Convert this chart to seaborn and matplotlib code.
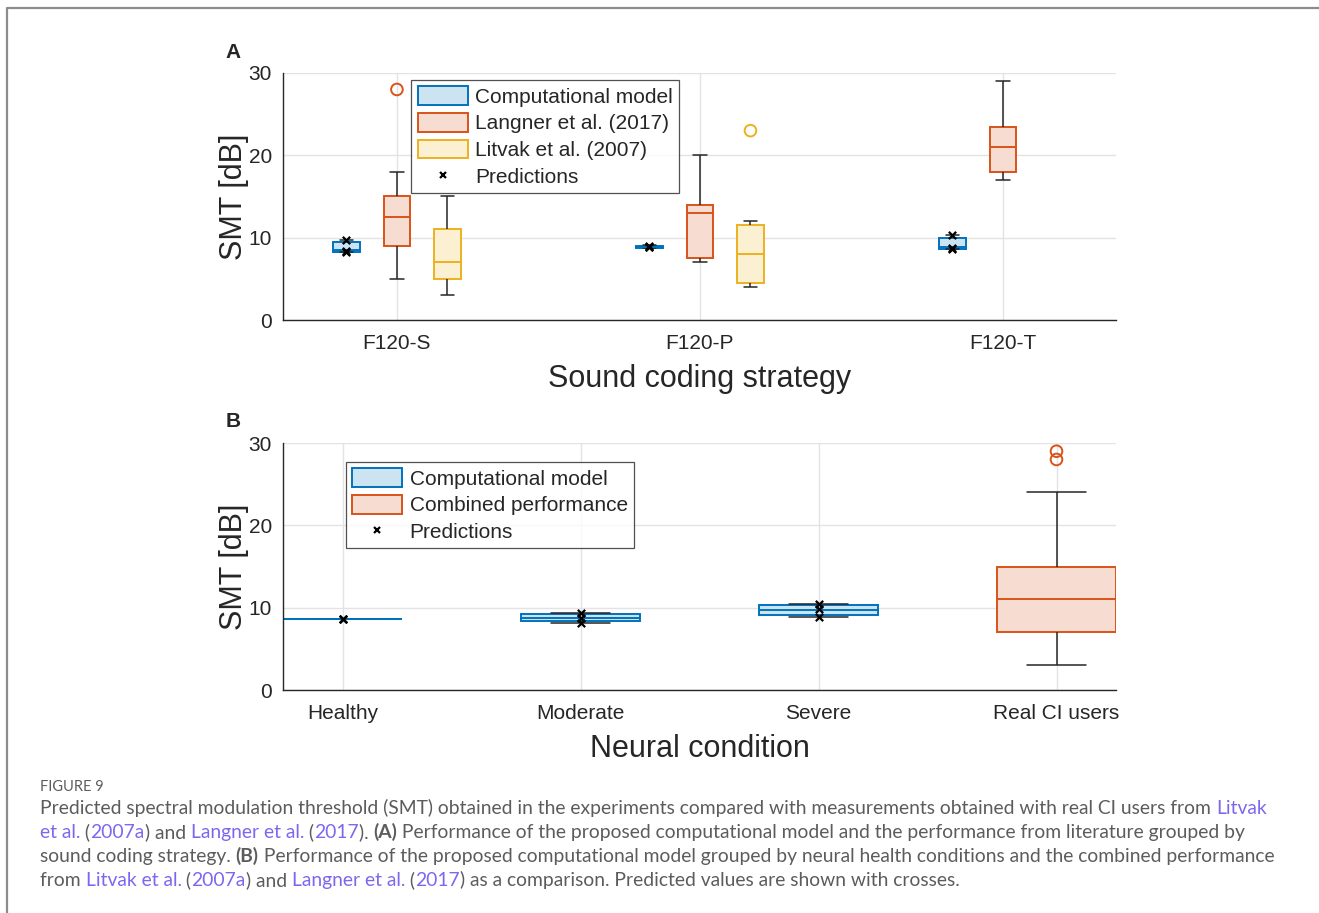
import numpy as np
import pandas as pd
import matplotlib
matplotlib.use("Agg")
import matplotlib.pyplot as plt
import seaborn as sns
from matplotlib.patches import Patch
from matplotlib.lines import Line2D

# ---------------- data ----------------
strategies = ["F120-S", "F120-P", "F120-T"]
series_a = ["Computational model", "Langner et al. (2017)", "Litvak et al. (2007)"]

# five-number summaries per strategy: [lower whisker, Q1, median, Q3, upper whisker]
comp_model_a = [[8.2, 8.25, 8.45, 9.45, 9.7],
                [8.75, 8.8, 8.9, 9.0, 9.1],
                [8.6, 8.65, 8.9, 10.0, 10.3]]
langner_a = [[5, 9, 12.5, 15, 18],
             [7, 7.5, 13, 14, 20],
             [17, 18, 21, 23.5, 29]]
litvak_a = [[3, 5, 7, 11, 15],
            [4, 4.5, 8, 11.5, 12],
            None]
langner_outliers_a = [[28], [], []]
litvak_outliers_a = [[], [23], []]
predictions_a = [[9.7, 8.3, 8.4],
                 [8.85, 8.9, 9.0],
                 [10.3, 8.7, 8.65]]

conditions = ["Healthy", "Moderate", "Severe", "Real CI users"]
series_b = ["Computational model", "Combined performance"]
comp_model_b = [[8.6, 8.6, 8.62, 8.65, 8.65],
                [8.17, 8.38, 8.75, 9.19, 9.3],
                [8.85, 9.1, 9.7, 10.3, 10.45]]
combined_b = [3, 7, 11, 15, 24]
combined_outliers_b = [28, 29]
predictions_b = [[8.62, 8.62, 8.62],
                 [9.3, 8.7, 8.17],
                 [10.45, 9.85, 8.85]]

# ---------------- style ----------------
edge_cols = {"Computational model": "#0072BD", "Langner et al. (2017)": "#D95319",
             "Litvak et al. (2007)": "#EDB120", "Combined performance": "#D95319"}
face_cols = {"Computational model": "#CCE3F2", "Langner et al. (2017)": "#F7DDD1",
             "Litvak et al. (2007)": "#FBF0D2", "Combined performance": "#F7DDD1"}
dark = "#262626"

sns.set_theme(style="white")
plt.rcParams["font.family"] = ["Liberation Sans", "DejaVu Sans"]

W, H = 1319, 913
fig = plt.figure(figsize=(W / 100, H / 100), dpi=100)


def ax_rect(l, t, r, b):
    return [l / W, 1 - b / H, (r - l) / W, (b - t) / H]


axA = fig.add_axes(ax_rect(283, 73, 1116, 320))
axB = fig.add_axes(ax_rect(283, 443, 1116, 690))

# long-form table of summaries
rows = []
for s, arr in zip(series_a, [comp_model_a, langner_a, litvak_a]):
    for c, vals in zip(strategies, arr):
        if vals is None:
            continue
        for v in vals:
            rows.append({"strategy": c, "series": s, "SMT": v})
dfA = pd.DataFrame(rows)

box_w = 0.5
gap_a = 0.48
whisk = dict(color=dark, linewidth=1.1)
for s in series_a:
    sub = dfA[dfA["series"] == s]
    sns.boxplot(data=sub, x="strategy", y="SMT", hue="series", order=strategies,
                hue_order=series_a, dodge=True, width=box_w, gap=gap_a,
                whis=(0, 100), palette=face_cols, saturation=1,
                linecolor=edge_cols[s], linewidth=1.4, legend=False, ax=axA,
                whiskerprops=whisk, capprops=whisk)

n_h = len(series_a)


def dodge_pos(ci, hi):
    return ci + (hi - (n_h - 1) / 2) * box_w / n_h


for ci, c in enumerate(strategies):
    for hi, (s, outl) in enumerate(zip(series_a, [[[]] * 3, langner_outliers_a, litvak_outliers_a])):
        vals = outl[ci]
        if vals:
            axA.scatter([dodge_pos(ci, hi)] * len(vals), vals, s=70, facecolors="none",
                        edgecolors=edge_cols[s], linewidths=1.4, zorder=5)
    p = predictions_a[ci]
    axA.scatter([dodge_pos(ci, 0)] * len(p), p, marker="x", s=28, color="black",
                linewidths=1.6, zorder=6)

# panel B
rows = []
for c, vals in zip(conditions[:3], comp_model_b):
    for v in vals:
        rows.append({"condition": c, "series": series_b[0], "SMT": v})
for v in combined_b:
    rows.append({"condition": conditions[3], "series": series_b[1], "SMT": v})
dfB = pd.DataFrame(rows)

for s in series_b:
    sub = dfB[dfB["series"] == s]
    sns.boxplot(data=sub, x="condition", y="SMT", order=conditions, width=0.5,
                whis=(0, 100), color=face_cols[s], saturation=1,
                linecolor=edge_cols[s], linewidth=1.4, ax=axB,
                whiskerprops=whisk, capprops=whisk)

axB.scatter([3] * len(combined_outliers_b), combined_outliers_b, s=70, facecolors="none",
            edgecolors=edge_cols["Combined performance"], linewidths=1.4, zorder=5)
for ci in range(3):
    p = predictions_b[ci]
    axB.scatter([ci] * len(p), p, marker="x", s=28, color="black", linewidths=1.6, zorder=6)

# axes styling
for ax, xl, labs in [(axA, "Sound coding strategy", strategies), (axB, "Neural condition", conditions)]:
    ax.set_ylim(0, 30)
    ax.set_yticks([0, 10, 20, 30])
    ax.set_xticks(range(len(labs)))
    ax.set_xticklabels(labs)
    ax.set_axisbelow(True)
    ax.grid(True, axis="both", color="#E3E3E3", linewidth=1.0)
    for sp in ["top", "right"]:
        ax.spines[sp].set_visible(False)
    for sp in ["left", "bottom"]:
        ax.spines[sp].set_color(dark)
        ax.spines[sp].set_linewidth(1.0)
    ax.tick_params(direction="in", length=6.5, width=0.9, colors=dark, labelsize=15,
                   pad=8, labelcolor=dark)
    ax.tick_params(axis="x", pad=10)
    ax.set_xlabel(xl, fontsize=22, color=dark, labelpad=8)
    ax.set_ylabel("SMT [dB]", fontsize=22, color=dark, labelpad=0)

axA.set_xlim(-0.376, 2.373)
axB.set_xlim(-0.25, 3.25)

# legends
legA = [Patch(facecolor=face_cols[s], edgecolor=edge_cols[s], linewidth=1.4, label=s) for s in series_a]
legA.append(Line2D([], [], marker="x", color="black", linestyle="none", markersize=5,
                   markeredgewidth=1.6, label="Predictions"))
legB = [Patch(facecolor=face_cols[s], edgecolor=edge_cols[s], linewidth=1.4, label=s) for s in series_b]
legB.append(Line2D([], [], marker="x", color="black", linestyle="none", markersize=5,
                   markeredgewidth=1.6, label="Predictions"))
for ax, handles, anchor in [(axA, legA, (0.154, 0.972)), (axB, legB, (0.0756, 0.923))]:
    lg = ax.legend(handles=handles, loc="upper left", bbox_to_anchor=anchor,
                   borderaxespad=0, fontsize=15, frameon=True, fancybox=False,
                   handlelength=2.4, handleheight=1.0, labelspacing=0.3,
                   handletextpad=0.35, borderpad=0.3)
    lg.get_frame().set_edgecolor(dark)
    lg.get_frame().set_linewidth(0.9)
    for t in lg.get_texts():
        t.set_color(dark)

fig.text(233 / W, 1 - 52 / H, "A", fontsize=15, fontweight="bold", ha="center", va="center", color=dark)
fig.text(233 / W, 1 - 421 / H, "B", fontsize=15, fontweight="bold", ha="center", va="center", color=dark)

# frame lines
fig.add_artist(Line2D([7 / W, 7 / W, 1.0], [0.0, 1 - 8 / H, 1 - 8 / H], color="#8C8C8C",
                      linewidth=1.6, transform=fig.transFigure))

# caption
cap_font = ["Lato", "DejaVu Sans"]
cap_size = 13.85
grey = "#5C5C5C"
link = "#7B68EE"
renderer = fig.canvas.get_renderer()

fig.text(40 / W, 1 - 791 / H, "FIGURE 9", fontsize=10.5, color=grey, family=cap_font,
         ha="left", va="baseline")


def seg_width(s, weight):
    kw = dict(fontsize=cap_size, family=cap_font, fontweight=weight)
    t1 = fig.text(0, 0, "|" + s + "|", **kw)
    t2 = fig.text(0, 0, "||", **kw)
    w = t1.get_window_extent(renderer).width - t2.get_window_extent(renderer).width
    t1.remove(); t2.remove()
    return w


N, L, B = "normal", "link", "bold"
caption_lines = [
    [("Predicted spectral modulation threshold (SMT) obtained in the experiments compared with measurements obtained with real CI users from ", N), ("Litvak", L)],
    [("et al.", L), (" (", N), ("2007a", L), (") and ", N), ("Langner et al.", L), (" (", N), ("2017", L), ("). ", N), ("(A)", B), (" Performance of the proposed computational model and the performance from literature grouped by", N)],
    [("sound coding strategy. ", N), ("(B)", B), (" Performance of the proposed computational model grouped by neural health conditions and the combined performance", N)],
    [("from ", N), ("Litvak et al.", L), (" (", N), ("2007a", L), (") and ", N), ("Langner et al.", L), (" (", N), ("2017", L), (") as a comparison. Predicted values are shown with crosses.", N)],
]
baselines = [814, 838, 862, 886]
for segs, yb in zip(caption_lines, baselines):
    x = 40.0
    for txt, kind in segs:
        weight = "bold" if kind == B else "normal"
        col = link if kind == L else grey
        fig.text(x / W, 1 - yb / H, txt, fontsize=cap_size, family=cap_font,
                 fontweight=weight, color=col, ha="left", va="baseline")
        x += seg_width(txt, weight)

fig.savefig("out.png", dpi=100)
